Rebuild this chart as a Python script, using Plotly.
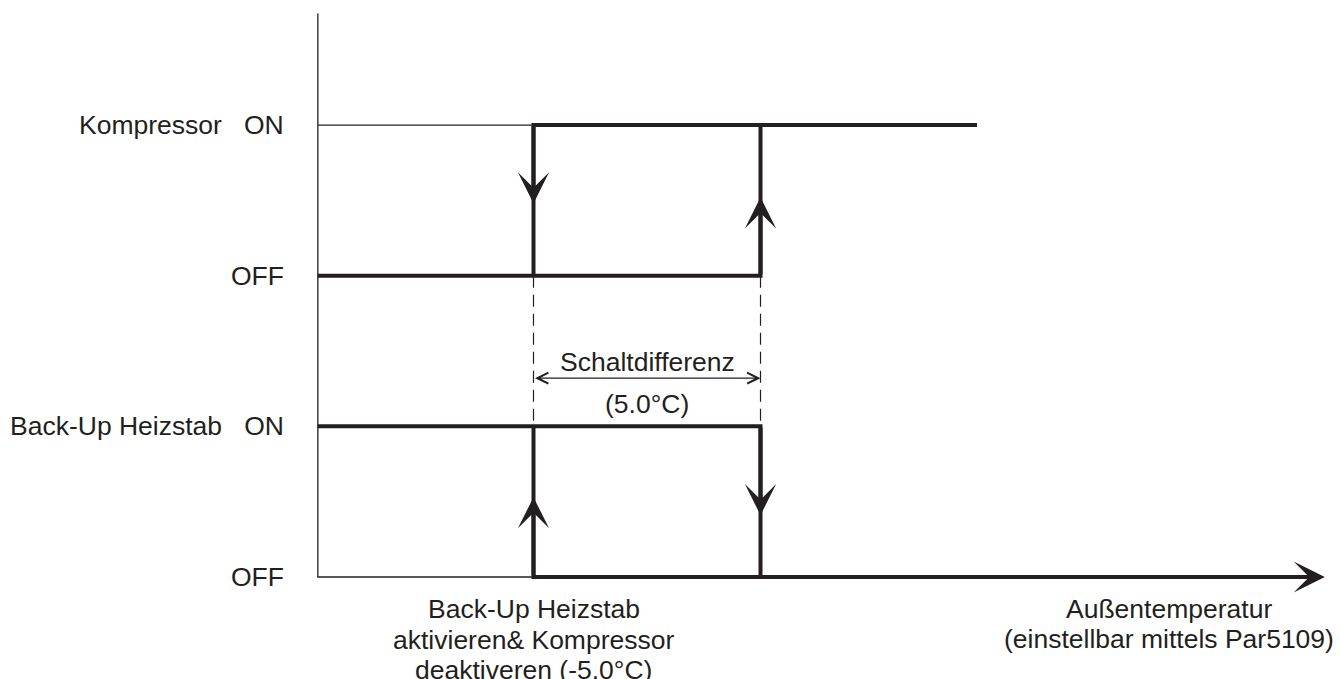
import plotly.graph_objects as go

# switching points along the outdoor temperature axis (°C)
t_switch = -5.0            # Back-Up Heizstab an / Kompressor aus
t_diff = 5.0               # Schaltdifferenz
t_release = t_switch + t_diff
t_axis0 = -9.75            # where the diagram starts (y axis)
t_comp_end = 4.77
t_axis_end = 12.43

# lanes: 0 = Heizstab OFF, 1 = Heizstab ON, 2 = Kompressor OFF, 3 = Kompressor ON
levels = [0, 1, 2, 3]
level_labels = ["OFF", "Back-Up Heizstab\u00a0\u00a0\u00a0ON", "OFF", "Kompressor\u00a0\u00a0\u00a0ON"]
y_top = 3.74

comp_x = [t_axis0, t_release, t_release, t_comp_end, None, t_switch, t_switch, t_release]
comp_y = [2, 2, 3, 3, None, 2, 3, 3]
heat_x = [t_axis0, t_release, t_release, None, t_switch, t_switch, t_axis_end - 0.5]
heat_y = [1, 1, 0, None, 1, 0, 0]
axis_x = [t_axis0, t_axis0, t_switch, None, t_axis0, t_switch]
axis_y = [y_top, 0, 0, None, 3, 3]

# direction arrows on the transitions: x, start level, arrow tip
trans_x = [t_switch, t_release, t_switch, t_release]
trans_from = [3, 2, 0, 1]
trans_tip = [2.48, 2.52, 0.53, 0.41]

bottom_left = ["Back-Up Heizstab", "aktivieren& Kompressor", "deaktiveren (-5.0°C)"]
bottom_right = ["Außentemperatur", "(einstellbar mittels Par5109)"]

ink = "#231f20"
font = dict(family="Liberation Sans, Arial, sans-serif", size=26.5, color=ink)

fig = go.Figure()
fig.add_trace(go.Scatter(x=axis_x, y=axis_y, mode="lines",
                         line=dict(color=ink, width=1.3), hoverinfo="skip"))
fig.add_trace(go.Scatter(x=[t_switch, t_switch, None, t_release, t_release],
                         y=[2, 1, None, 2, 1], mode="lines",
                         line=dict(color=ink, width=1.2, dash="12px,7px"), hoverinfo="skip"))
fig.add_trace(go.Scatter(x=comp_x, y=comp_y, mode="lines",
                         line=dict(color=ink, width=4), hoverinfo="skip"))
fig.add_trace(go.Scatter(x=heat_x, y=heat_y, mode="lines",
                         line=dict(color=ink, width=4), hoverinfo="skip"))

head = 1.3
ann = []
for x, y0, y1 in zip(trans_x, trans_from, trans_tip):
    ann.append(dict(x=x, y=y1, ax=x, ay=y0, xref="x", yref="y", axref="x", ayref="y",
                    showarrow=True, arrowhead=3, arrowsize=head, arrowwidth=4,
                    arrowcolor=ink, text="", standoff=0))
# x axis arrow
ann.append(dict(x=t_axis_end, y=0, ax=t_axis_end - 1.5, ay=0, xref="x", yref="y",
                axref="x", ayref="y", showarrow=True, arrowhead=3, arrowsize=head,
                arrowwidth=4, arrowcolor=ink, text="", standoff=0))
# Schaltdifferenz dimension line
ann.append(dict(x=t_release, y=1.32, ax=t_switch, ay=1.32, xref="x", yref="y",
                axref="x", ayref="y", showarrow=True, arrowhead=5, startarrowhead=5,
                arrowside="end+start", arrowsize=1.8, startarrowsize=1.8, arrowwidth=1.2,
                arrowcolor=ink, text="", standoff=0, startstandoff=0))
mid = t_switch + t_diff / 2
ann.append(dict(x=mid, y=1.43, xref="x", yref="y", text="Schaltdifferenz",
                showarrow=False, font=font, yanchor="middle"))
ann.append(dict(x=mid, y=1.15, xref="x", yref="y", text="(%.1f°C)" % t_diff,
                showarrow=False, font=font, yanchor="middle"))

for lv, lab in zip(levels, level_labels):
    ann.append(dict(x=t_axis0 - 0.7, y=lv, xref="x", yref="y", text=lab,
                    showarrow=False, font=font, xanchor="right", yanchor="middle"))

for i, line in enumerate(bottom_left):
    ann.append(dict(x=t_switch, y=-0.21 - 0.205 * i, xref="x", yref="y", text=line,
                    showarrow=False, font=font, xanchor="center", yanchor="middle"))
for i, line in enumerate(bottom_right):
    ann.append(dict(x=9.0, y=-0.21 - 0.2 * i, xref="x", yref="y", text=line,
                    showarrow=False, font=font, xanchor="center", yanchor="middle"))

fig.update_layout(
    width=1340, height=679,
    margin=dict(l=0, r=0, t=0, b=0),
    paper_bgcolor="white", plot_bgcolor="white",
    showlegend=False,
    xaxis=dict(range=[-16.751, 12.764], visible=False, fixedrange=True),
    yaxis=dict(range=[-0.677, 3.830], visible=False, fixedrange=True),
    annotations=ann,
)

# drop the browser's default body margin so the figure fills the window
fig.write_html("out.html", config={"displayModeBar": False},
               post_script="document.body.style.margin='0';")
